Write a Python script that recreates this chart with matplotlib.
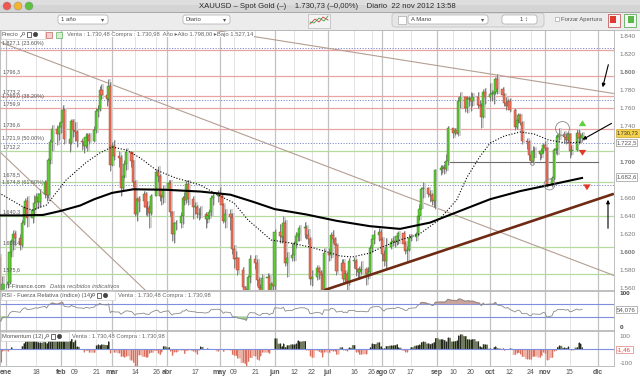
import numpy as np
import pandas as pd
import matplotlib
matplotlib.use("Agg")
import matplotlib.pyplot as plt
import matplotlib.dates as mdates
from matplotlib.patches import Rectangle, FancyBboxPatch, Circle

plt.rcParams['font.family'] = ['Liberation Sans', 'DejaVu Sans']

# XAUUSD diario, 1 dic 2011 - 22 nov 2012 (dias habiles, una fila por semana)
close = [
    1746, 1746,
    1722, 1730, 1745, 1713, 1712,
    1666, 1635, 1575, 1578, 1597,
    1595, 1619, 1610, 1607, 1606,
    1602, 1595, 1555, 1540, 1565,
    1567, 1600, 1612, 1620, 1616,
    1608, 1633, 1650, 1657, 1638,
    1647, 1655, 1661, 1656, 1665,
    1678, 1664, 1702, 1722, 1737,
    1731, 1739, 1745, 1758, 1726,
    1721, 1746, 1736, 1734, 1724,
    1722, 1718, 1728, 1730, 1724,
    1736, 1757, 1759, 1780, 1775,
    1770, 1785, 1697, 1718, 1707,
    1705, 1671, 1685, 1698, 1711,
    1701, 1678, 1643, 1659, 1657,
    1665, 1650, 1649, 1644, 1663,
    1689, 1685, 1662, 1661, 1669,
    1677, 1645, 1620, 1632, 1632,
    1640, 1660, 1658, 1676, 1659,
    1650, 1650, 1642, 1642, 1642,
    1637, 1640, 1645, 1660, 1663,
    1664, 1663, 1653, 1635, 1643,
    1639, 1604, 1592, 1594, 1580,
    1561, 1557, 1537, 1572, 1592,
    1588, 1569, 1560, 1557, 1571,
    1573, 1552, 1565, 1562, 1622,
    1618, 1617, 1632, 1588, 1594,
    1597, 1610, 1618, 1620, 1627,
    1627, 1619, 1615, 1570, 1572,
    1582, 1578, 1575, 1555, 1599,
    1597, 1619, 1615, 1608, 1579,
    1588, 1570, 1576, 1567, 1590,
    1590, 1581, 1578, 1580, 1581,
    1576, 1578, 1605, 1615, 1619,
    1622, 1614, 1598, 1590, 1606,
    1611, 1613, 1611, 1618, 1621,
    1609, 1601, 1603, 1616, 1617,
    1620, 1640, 1648, 1670, 1671,
    1665, 1664, 1657, 1657, 1691,
    1694, 1694, 1693, 1701, 1738,
    1732, 1736, 1733, 1768, 1772,
    1760, 1770, 1771, 1768, 1773,
    1764, 1763, 1750, 1778, 1772,
    1776, 1776, 1778, 1793, 1781,
    1775, 1766, 1763, 1768, 1758,
    1739, 1747, 1752, 1744, 1724,
    1723, 1708, 1701, 1713, 1712,
    1709, 1712, 1719, 1716, 1675,
    1683, 1714, 1715, 1728, 1731,
    1728, 1725, 1731, 1713, 1714,
    1733, 1727, 1727, 1730.73,
]
high = [
    1755, 1762,
    1752, 1736, 1750, 1750, 1720,
    1715, 1670, 1640, 1598, 1605,
    1608, 1622, 1625, 1614, 1612,
    1608, 1606, 1598, 1558, 1574,
    1572, 1605, 1615, 1625, 1624,
    1620, 1636, 1653, 1660, 1662,
    1652, 1664, 1666, 1666, 1670,
    1680, 1680, 1705, 1726, 1741,
    1741, 1745, 1752, 1764, 1760,
    1730, 1748, 1748, 1745, 1736,
    1727, 1728, 1733, 1733, 1733,
    1740, 1760, 1764, 1785, 1787,
    1778, 1792, 1789, 1722, 1725,
    1712, 1708, 1688, 1702, 1716,
    1712, 1702, 1680, 1661, 1662,
    1668, 1667, 1657, 1653, 1665,
    1692, 1696, 1687, 1665, 1675,
    1680, 1680, 1646, 1634, 1636,
    1645, 1663, 1667, 1680, 1680,
    1662, 1656, 1653, 1649, 1651,
    1645, 1643, 1648, 1664, 1667,
    1669, 1672, 1665, 1655, 1648,
    1648, 1644, 1608, 1601, 1595,
    1584, 1563, 1560, 1575, 1597,
    1597, 1593, 1572, 1565, 1576,
    1577, 1576, 1567, 1570, 1626,
    1631, 1624, 1640, 1636, 1600,
    1610, 1613, 1622, 1627, 1630,
    1634, 1630, 1626, 1617, 1580,
    1586, 1584, 1580, 1577, 1605,
    1605, 1622, 1625, 1617, 1610,
    1593, 1592, 1580, 1578, 1594,
    1595, 1593, 1582, 1585, 1590,
    1584, 1584, 1608, 1619, 1625,
    1627, 1626, 1617, 1602, 1616,
    1616, 1618, 1618, 1620, 1624,
    1624, 1613, 1607, 1620, 1620,
    1622, 1642, 1654, 1672, 1678,
    1672, 1669, 1666, 1662, 1693,
    1697, 1697, 1698, 1709, 1740,
    1738, 1738, 1739, 1772, 1778,
    1772, 1774, 1774, 1778, 1777,
    1778, 1769, 1766, 1781, 1782,
    1788, 1780, 1780, 1795, 1798,
    1784, 1777, 1772, 1770, 1771,
    1760, 1749, 1755, 1754, 1746,
    1727, 1725, 1711, 1718, 1717,
    1713, 1716, 1721, 1724, 1717,
    1685, 1716, 1730, 1731, 1738,
    1735, 1733, 1734, 1733, 1719,
    1737, 1737, 1732, 1734,
]
low = [
    1733, 1738,
    1715, 1716, 1725, 1708, 1705,
    1660, 1625, 1565, 1563, 1575,
    1590, 1592, 1602, 1597, 1600,
    1598, 1590, 1550, 1527, 1537,
    1560, 1565, 1595, 1603, 1608,
    1603, 1606, 1630, 1642, 1628,
    1632, 1640, 1648, 1649, 1650,
    1660, 1657, 1660, 1698, 1713,
    1719, 1725, 1733, 1741, 1720,
    1711, 1720, 1728, 1724, 1717,
    1714, 1710, 1716, 1713, 1720,
    1723, 1733, 1750, 1757, 1770,
    1763, 1768, 1690, 1696, 1702,
    1695, 1663, 1668, 1682, 1691,
    1695, 1672, 1640, 1635, 1645,
    1650, 1641, 1640, 1627, 1641,
    1662, 1678, 1657, 1652, 1655,
    1663, 1640, 1612, 1610, 1625,
    1627, 1631, 1652, 1655, 1652,
    1637, 1642, 1638, 1636, 1638,
    1627, 1632, 1637, 1640, 1652,
    1656, 1657, 1648, 1633, 1627,
    1625, 1598, 1583, 1584, 1575,
    1555, 1547, 1527, 1535, 1566,
    1581, 1563, 1546, 1550, 1552,
    1567, 1548, 1545, 1550, 1555,
    1610, 1610, 1612, 1585, 1572,
    1590, 1590, 1605, 1612, 1612,
    1616, 1615, 1609, 1564, 1563,
    1569, 1570, 1570, 1548, 1555,
    1590, 1594, 1610, 1603, 1575,
    1575, 1565, 1566, 1555, 1564,
    1583, 1574, 1570, 1570, 1576,
    1564, 1570, 1576, 1600, 1609,
    1613, 1605, 1590, 1585, 1583,
    1604, 1607, 1606, 1608, 1609,
    1605, 1598, 1590, 1601, 1612,
    1612, 1618, 1636, 1648, 1660,
    1661, 1656, 1653, 1650, 1648,
    1686, 1688, 1687, 1690, 1697,
    1727, 1730, 1731, 1729, 1760,
    1756, 1755, 1763, 1757, 1762,
    1760, 1752, 1738, 1749, 1765,
    1768, 1768, 1765, 1776, 1776,
    1771, 1763, 1758, 1760, 1756,
    1736, 1737, 1744, 1741, 1720,
    1715, 1702, 1700, 1699, 1705,
    1703, 1705, 1710, 1712, 1672,
    1672, 1680, 1709, 1708, 1725,
    1722, 1720, 1722, 1705, 1708,
    1713, 1720, 1721, 1724,
]
prev_close = 1750  # cierre 30 nov 2011

# medias moviles (fecha, valor)
ma_slow_dates = ['2011-12-28', '2012-01-10', '2012-01-22', '2012-02-01', '2012-02-12', '2012-02-20',
                 '2012-03-01', '2012-03-13', '2012-03-31', '2012-04-20', '2012-05-07', '2012-05-20',
                 '2012-06-01', '2012-06-19', '2012-07-06', '2012-07-25', '2012-08-11', '2012-08-28',
                 '2012-09-14', '2012-10-01', '2012-10-18', '2012-11-04', '2012-11-22']
ma_slow = [1641, 1641, 1641.5, 1646, 1652, 1659, 1666, 1670, 1669.5, 1667.5, 1664, 1656,
           1648, 1642, 1635, 1629, 1626, 1633, 1646, 1659, 1668, 1675, 1682.6]
ma_fast_dates = ['2011-12-28', '2012-01-12', '2012-01-16', '2012-01-24', '2012-02-04', '2012-02-15',
                 '2012-02-23', '2012-03-01', '2012-03-09', '2012-03-17', '2012-03-26', '2012-04-06',
                 '2012-04-20', '2012-04-30', '2012-05-09', '2012-05-17', '2012-05-30', '2012-06-10',
                 '2012-06-21', '2012-07-01', '2012-07-08', '2012-07-15', '2012-07-25', '2012-08-01',
                 '2012-08-11', '2012-08-22', '2012-09-02', '2012-09-12', '2012-09-18', '2012-09-25',
                 '2012-10-01', '2012-10-09', '2012-10-18', '2012-10-26', '2012-11-03', '2012-11-13',
                 '2012-11-22']
ma_fast = [1666, 1649, 1647, 1652.6, 1680.3, 1699.2, 1710.3, 1717, 1713.7, 1704.8, 1691.4, 1682.6,
           1674.8, 1663.7, 1654.8, 1635.9, 1613.7, 1610.3, 1605.9, 1600.3, 1595.9, 1594.8, 1599.2,
           1605.9, 1613.7, 1620.3, 1635.9, 1658.1, 1683.7, 1705.9, 1721.4, 1729.2, 1733.7, 1731.4,
           1724.8, 1721.4, 1722.5]

# niveles horizontales
red_levels = [1825, 1796.3, 1773.2, 1759.9, 1736.6]
fibo_levels = [1827.1, 1769.0, 1721.9, 1674.8]
green_levels = [1712.2, 1678.5, 1640.3, 1606.4, 1575.6]
level_labels = [('1.827,1 (23.60%)', 1827.1), ('1.796,3', 1796.3), ('1.773,2', 1773.2),
                ('1.769,0 (38.20%)', 1769.0), ('1.759,9', 1759.9), ('1.736,6', 1736.6),
                ('1.721,9 (50.00%)', 1721.9), ('1.712,2', 1712.2), ('1.678,5', 1678.5),
                ('1.674,8 (61.80%)', 1674.8), ('1.640,3', 1640.3), ('1.606,4', 1606.4),
                ('1.575,6', 1575.6)]

# lineas de tendencia (fecha, precio) -> (fecha, precio)
trend_thin = [(('2011-12-28', 1834.1), ('2012-12-10', 1574.3)),
              (('2011-12-28', 1712.6), ('2012-03-20', 1557.6)),
              (('2012-04-25', 1847.6), ('2012-12-10', 1776.4))]
trend_up = (('2012-06-29', 1557.8), ('2012-12-10', 1665.0))
support = (('2012-09-05', 1700), ('2012-12-01', 1700))

tick_dates = ['2012-01-01', '2012-01-18', '2012-02-01', '2012-02-09', '2012-02-21', '2012-03-01',
              '2012-03-14', '2012-03-26', '2012-04-01', '2012-04-17', '2012-05-01', '2012-05-09',
              '2012-05-21', '2012-06-01', '2012-06-12', '2012-06-22', '2012-07-01', '2012-07-16',
              '2012-07-26', '2012-08-01', '2012-08-07', '2012-08-17', '2012-09-01', '2012-09-10',
              '2012-09-20', '2012-10-01', '2012-10-12', '2012-10-24', '2012-11-01', '2012-11-15',
              '2012-12-01']
tick_labels = ['ene', '18', 'feb', '09', '21', 'mar', '14', '26', 'abr', '17', 'may', '09', '21',
               'jun', '12', '22', 'jul', '16', '26', 'ago', '07', '17', 'sep', '10', '20', 'oct',
               '12', '24', 'nov', '15', 'dic']

dates = pd.bdate_range('2011-12-01', '2012-11-22')
assert len(dates) == len(close) == len(high) == len(low)

# ---------------------------------------------------------------
W, H = 640, 376
fig = plt.figure(figsize=(W / 100, H / 100), dpi=100)
fig.patch.set_facecolor('white')


def frac(l, t, r, b):
    return [l / W, 1 - b / H, (r - l) / W, (b - t) / H]


ax = fig.add_axes(frac(0, 30, 614, 290))
ax_rsi = fig.add_axes(frac(0, 291, 614, 330), sharex=ax)
ax_mom = fig.add_axes(frac(0, 331, 614, 366), sharex=ax)

c = np.array(close, dtype=float)
hi = np.array(high, dtype=float)
lo = np.array(low, dtype=float)
op = np.r_[prev_close, c[:-1]]
xd = mdates.date2num(dates)
d = lambda s: mdates.date2num(pd.Timestamp(s))

# rejilla vertical
for t, lab in zip(tick_dates, tick_labels):
    month = lab.isalpha()
    for a in (ax, ax_rsi, ax_mom):
        a.axvline(d(t), color='#c2c2c2' if month else '#e3e3e3', lw=0.9 if month else 0.7, zorder=0)

# niveles
for v in red_levels:
    ax.axhline(v, color='#e8a3a3', lw=0.9, zorder=1)
for v in fibo_levels:
    ax.axhline(v, color='#8088d0', lw=0.7, ls=(0, (1.2, 1.6)), zorder=1)
for v in green_levels:
    ax.axhline(v, color='#b5dca0', lw=0.9, zorder=1)
for txt, v in level_labels:
    off = 4.6
    if txt == '1.678,5':
        off = 7.5
    elif txt.startswith('1.674,8'):
        off = 2.8
    ax.text(0.004, v + off, txt, transform=ax.get_yaxis_transform(), fontsize=3.9,
            color='#555555', va='center', ha='left', zorder=6)

# tendencias
for (d0, p0), (d1, p1) in trend_thin:
    ax.plot([d(d0), d(d1)], [p0, p1], color='#b59e92', lw=0.8, zorder=2)
ax.plot([d(trend_up[0][0]), d(trend_up[1][0])], [trend_up[0][1], trend_up[1][1]],
        color='#6e2a12', lw=1.9, zorder=4, solid_capstyle='butt')
ax.plot([d(support[0][0]), d(support[1][0])], [support[0][1], support[1][1]],
        color='#6a6a6a', lw=0.8, zorder=2)

# velas
ax.vlines(xd + 0.9, lo, hi, color='#d2d2d2', lw=1.4, zorder=2)
ax.vlines(xd, lo, hi, color='#5a5a5a', lw=0.5, zorder=3)
up = c >= op
body = np.maximum(np.abs(c - op), 0.9)
ax.bar(xd, body, bottom=np.minimum(c, op), width=1.25,
       color=np.where(up, '#5fcc35', '#e9745e'),
       edgecolor=np.where(up, '#2f7a18', '#a23a26'), linewidth=0.3, zorder=3)

# medias
ax.plot([d(s) for s in ma_slow_dates], ma_slow, color='black', lw=1.5, zorder=5)
ax.plot([d(s) for s in ma_fast_dates], ma_fast, color='black', lw=0.8,
        ls=(0, (1, 1.6)), zorder=5)

# circulos
ax.plot([d('2012-10-24 12:00')], [1698.9], marker='o', ms=2.6, mfc='none', mec='#777777', mew=0.6, zorder=6)
ax.plot([d('2012-11-03 12:00')], [1676.0], marker='o', ms=7.8, mfc='none', mec='#888888', mew=0.6, zorder=6)
ax.plot([d('2012-11-10 12:00')], [1737.8], marker='o', ms=10, mfc='none', mec='#888888', mew=0.6, zorder=6)

# ejes
x0 = d('2012-01-01')
ax.set_xlim(x0 - 6 / 1.767, x0 + 608 / 1.767)
ax.set_ylim(1558.1, 1847.0)
ax.yaxis.tick_right()
yt = list(range(1560, 1841, 20))
ax.set_yticks(yt)
ax.set_yticklabels(['' if v in (1720, 1680) else '1.%03d' % (v - 1000) for v in yt])
for v, lab in zip(yt, ax.get_yticklabels()):
    if v % 100 == 0:
        lab.set_fontweight('bold')
        lab.set_color('#333333')
ax.tick_params(axis='y', length=0, pad=4, labelsize=4.6, labelcolor='#777777')

# RSI
s = pd.Series(c)
delta = s.diff()
gain = delta.clip(lower=0).ewm(alpha=1 / 14, adjust=False).mean()
loss = (-delta.clip(upper=0)).ewm(alpha=1 / 14, adjust=False).mean()
rsi = (100 - 100 / (1 + gain / loss)).values
ax_rsi.plot(xd, rsi, color='#8a8a8a', lw=0.6, zorder=3)
ax_rsi.fill_between(xd, rsi, 70, where=rsi > 70, interpolate=True, color='#c9a39c', zorder=2)
ax_rsi.fill_between(xd, rsi, 30, where=rsi < 30, interpolate=True, color='#9fd09a', zorder=2)
ax_rsi.axhline(70, color='#7f8fe0', lw=0.8, zorder=1)
ax_rsi.axhline(30, color='#7f8fe0', lw=0.8, zorder=1)
ax_rsi.set_ylim(-7.9, 106.8)
ax_rsi.yaxis.tick_right()
ax_rsi.set_yticks([0, 100])
ax_rsi.set_yticklabels(['0', '100'], fontweight='bold')
ax_rsi.tick_params(axis='y', length=0, pad=4, labelsize=4.6, labelcolor='#444444')

# Momentum (12)
mom = (s - s.shift(12)).values
pos = np.where(mom >= 0, mom, 0)
neg = np.where(mom < 0, mom, 0)
ax_mom.fill_between(xd, pos, 0, step='mid', color='#6f7a5e', lw=0, zorder=2)
ax_mom.fill_between(xd, neg, 0, step='mid', color='#eeb1a6', lw=0, zorder=2)
ax_mom.vlines(xd, 0, mom, colors=np.where(mom >= 0, '#111111', '#d55d48'), lw=0.55, zorder=3)
ax_mom.axhline(0, color='#7f8fe0', lw=0.8, zorder=4)
ax_mom.set_ylim(-125.6, 137.6)
ax_mom.yaxis.tick_right()
ax_mom.set_yticks([-100, 100])
ax_mom.set_yticklabels(['-100', '100'])
ax_mom.tick_params(axis='y', length=0, pad=4, labelsize=4.6, labelcolor='#777777')

ax_mom.set_xticks([d(t) for t in tick_dates])
ax_mom.set_xticklabels(tick_labels)
for lab in ax_mom.get_xticklabels():
    if lab.get_text().isalpha():
        lab.set_fontweight('bold')
        lab.set_color('#333333')
ax_mom.tick_params(axis='x', length=0, pad=2.5, labelsize=5, labelcolor='#555555')
for a in (ax, ax_rsi):
    a.tick_params(axis='x', length=0, labelbottom=False)

for a in (ax, ax_rsi, ax_mom):
    for sp in a.spines.values():
        sp.set_color('#b4b4b4')
        sp.set_linewidth(0.6)
    a.set_facecolor('white')

# ---------------------------------------------------------------
# ventana, barra de herramientas, cabeceras y anotaciones (pixeles)
deco = fig.add_axes([0, 0, 1, 1], zorder=10)
deco.set_xlim(0, W)
deco.set_ylim(H, 0)
deco.axis('off')
deco.patch.set_visible(False)

deco.add_patch(Rectangle((0, 0), W, 12, color='#d4d4d4', lw=0))
deco.add_patch(Rectangle((0, 0), W, 5, color='#dedede', lw=0))
deco.add_patch(Rectangle((0, 12), W, 18, color='#ececec', lw=0))
deco.plot([0, W], [12, 12], color='#9c9c9c', lw=0.6)
deco.plot([0, W], [30, 30], color='#b8b8b8', lw=0.6)
for cx, col in ((7, '#f0574f'), (18, '#f4b52d'), (29, '#5ec13d')):
    deco.add_patch(Circle((cx, 6), 4.0, facecolor=col, edgecolor='#888888', lw=0.3))
deco.text(327, 6.3, 'XAUUSD \u2013 Spot Gold (\u2013)    1.730,73 (\u20130,00%)    Diario  22 nov 2012 13:58',
          fontsize=5.6, color='#2a2a2a', ha='center', va='center')


def field(x0, x1, txt, arrow=True, align='left'):
    deco.add_patch(FancyBboxPatch((x0, 15), x1 - x0, 9, boxstyle='round,pad=0,rounding_size=2.5',
                                  facecolor='white', edgecolor='#a9a9a9', lw=0.5))
    if align == 'left':
        deco.text(x0 + 3, 19.6, txt, fontsize=4.3, color='#444444', va='center')
    else:
        deco.text(x1 - 9, 19.6, txt, fontsize=4.3, color='#444444', va='center', ha='right')
    if arrow:
        deco.text(x1 - 5, 19.6, '\u25be', fontsize=4.5, color='#555555', va='center', ha='center',
                  family=['DejaVu Sans'])


field(58, 108, '1 a\u00f1o')
field(183, 230, 'Diario')
deco.add_patch(FancyBboxPatch((392, 13), 152, 14, boxstyle='round,pad=0,rounding_size=3',
                              facecolor='#e6e6e6', edgecolor='#bdbdbd', lw=0.5))
field(408, 488, 'A Mano')
field(502, 537, '1 \u2195', arrow=False, align='right')
deco.add_patch(Rectangle((398, 15.5), 8, 8, facecolor='white', edgecolor='#999999', lw=0.4))
deco.add_patch(Rectangle((308, 13.5), 22, 14, facecolor='#f4f4f4', edgecolor='#aaaaaa', lw=0.4))
deco.plot([310, 315, 319, 323, 328], [24, 19, 22, 17, 20], color='#d04040', lw=0.6)
deco.plot([310, 314, 319, 324, 328], [22, 23, 18, 21, 16], color='#40a040', lw=0.6)
deco.add_patch(Rectangle((555, 17), 4, 4, facecolor='white', edgecolor='#999999', lw=0.4))
deco.text(561, 19.4, 'Forzar Apertura', fontsize=4.2, color='#555555', va='center')
deco.add_patch(Rectangle((608, 14), 12, 13, facecolor='#f6f6f6', edgecolor='#c04040', lw=0.5))
deco.add_patch(Rectangle((609.5, 15.5), 6, 7, facecolor='#e03a30', lw=0))
deco.add_patch(Rectangle((624, 14), 12, 13, facecolor='#f6f6f6', edgecolor='#40a040', lw=0.5))
deco.add_patch(Rectangle((628, 15.5), 6, 7, facecolor='#58b848', lw=0))


def panel_header(y, name, x_icons, x_text, info):
    deco.add_patch(Rectangle((0.5, y - 4.2), x_icons + 22, 8.4, facecolor='white',
                             edgecolor='#c4c4c4', lw=0.4))
    deco.text(2, y, name, fontsize=4.2, color='#555555', va='center')
    deco.add_patch(Circle((x_icons + 1.5, y - 0.8), 1.3, fill=False, ec='#555555', lw=0.4))
    deco.plot([x_icons, x_icons - 1.5], [y + 0.5, y + 2.5], color='#555555', lw=0.5)
    deco.add_patch(Rectangle((x_icons + 5, y - 2.2), 4.2, 4.4, fill=False, ec='#333333', lw=0.5))
    deco.add_patch(Circle((x_icons + 13.5, y), 2.2, facecolor='#444444', ec='#222222', lw=0.3))
    deco.text(x_text, y, info, fontsize=4.2, color='#666666', va='center',
              bbox=dict(facecolor='white', edgecolor='none', pad=0.3))


panel_header(34.5, 'Precio', 22, 67,
             'Venta : 1.730,48 Compra : 1.730,98  A\u00f1o \u25b8Alto 1.798,00 \u25b8Bajo 1.527,14')
deco.add_patch(Rectangle((46, 31.5), 5.5, 6, facecolor='#f2d0d0', edgecolor='#c04040', lw=0.4))
deco.add_patch(Rectangle((56, 31.5), 5.5, 6, facecolor='#d4f0d0', edgecolor='#40a040', lw=0.4))
panel_header(295.5, 'RSI - Fuerza Relativa (\u00edndice) (14)', 92, 118,
             'Venta : 1.730,48 Compra : 1.730,98')
panel_header(336.5, 'Momentum (12)', 46, 72, 'Venta : 1.730,48 Compra : 1.730,98')

deco.add_patch(Rectangle((2, 284), 3, 5, facecolor='#58b848', lw=0))
deco.text(6, 286.5, 'IT-Finance.com', fontsize=4.2, color='#555555', va='center')
deco.text(50, 286.5, 'Datos recibidos indicativos', fontsize=4.2, color='#666666', va='center',
          style='italic')


def value_box(y, txt, fc='white', ec='#999999', tc='#555555', w=21, fs=4.4):
    deco.add_patch(Rectangle((615.5, y - 3.8), w, 7.6, facecolor=fc, edgecolor=ec, lw=0.5))
    deco.text(616.8, y, txt, fontsize=fs, color=tc, va='center')


value_box(133, '1.730,73', fc='#f5d24c', ec='#c9a030', tc='#333333', w=24, fs=4.0)
value_box(142.5, '1.722,5')
value_box(177, '1.682,6')
value_box(309.5, '54,076')
value_box(349.3, '-1,46', tc='#e04040', ec='#e08080', w=17)

# flechas
arw = dict(arrowstyle='-|>', color='black', lw=0.8, mutation_scale=5)
deco.annotate('', xy=(602, 90), xytext=(609, 62), arrowprops=arw)
deco.annotate('', xy=(580, 141), xytext=(614, 122), arrowprops=arw)
deco.annotate('', xy=(608, 197), xytext=(608, 231), arrowprops=arw)
fat = 'simple,head_width=0.9,head_length=0.7,tail_width=0.4'
deco.annotate('', xy=(582.5, 117.5), xytext=(582.5, 125.5),
              arrowprops=dict(arrowstyle=fat, color='#5fd040', lw=0, mutation_scale=6))
deco.annotate('', xy=(582.5, 158.5), xytext=(582.5, 150.5),
              arrowprops=dict(arrowstyle=fat, color='#e03a2a', lw=0, mutation_scale=6))
deco.annotate('', xy=(587, 193), xytext=(587, 185),
              arrowprops=dict(arrowstyle=fat, color='#e03a2a', lw=0, mutation_scale=6))

fig.savefig('out.png', dpi=100)
